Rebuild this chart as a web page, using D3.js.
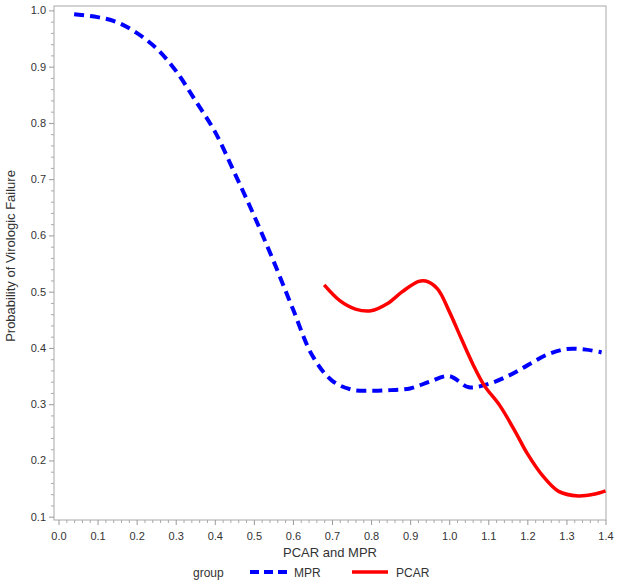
<!DOCTYPE html>
<html><head><meta charset="utf-8">
<script src="https://cdn.jsdelivr.net/npm/d3@7/dist/d3.min.js"></script>
<style>body{margin:0;background:#fff}svg{display:block}</style>
</head><body>
<svg id="c" width="618" height="585"></svg>
<script>
const mprX = [0.04,0.10,0.15,0.20,0.25,0.30,0.35,0.40,0.45,0.50,0.55,0.60,0.65,0.70,0.75,0.80,0.85,0.90,0.95,1.00,1.05,1.10,1.15,1.20,1.25,1.30,1.35,1.39];
const mprY = [0.993,0.988,0.979,0.960,0.933,0.893,0.840,0.785,0.712,0.636,0.555,0.469,0.386,0.342,0.326,0.324,0.325,0.328,0.340,0.350,0.330,0.336,0.350,0.369,0.388,0.398,0.397,0.392];
const pcarX = [0.68,0.72,0.76,0.80,0.84,0.88,0.92,0.94,0.97,1.00,1.03,1.06,1.09,1.13,1.17,1.20,1.24,1.28,1.33,1.37,1.40];
const pcarY = [0.512,0.484,0.469,0.466,0.478,0.500,0.518,0.519,0.505,0.465,0.418,0.372,0.333,0.297,0.250,0.212,0.172,0.145,0.137,0.140,0.146];
const xTicks = [0,0.1,0.2,0.3,0.4,0.5,0.6,0.7,0.8,0.9,1.0,1.1,1.2,1.3,1.4];
const yTicks = [0.1,0.2,0.3,0.4,0.5,0.6,0.7,0.8,0.9,1.0];
const groups = ["MPR","PCAR"];

const svg = d3.select("#c");
const F = "'Liberation Sans', Arial, sans-serif";
const frame = {l:54, r:606, t:6, b:520};
const x = d3.scaleLinear().domain([0,1.4]).range([58.5,605.5]);
const y = d3.scaleLinear().domain([0.1,1.0]).range([516.7,10.4]);

// frame
svg.append("rect").attr("x",frame.l).attr("y",frame.t).attr("width",frame.r-frame.l).attr("height",frame.b-frame.t)
  .attr("fill","none").attr("stroke","#a8a8a8").attr("stroke-width",1);

// minor ticks
const minorX = d3.range(0,71).map(i=>i*0.02).filter(v=>Math.abs(v*10-Math.round(v*10))>1e-6);
const minorY = d3.range(5,51).map(i=>i*0.02).filter(v=>Math.abs(v*10-Math.round(v*10))>1e-6);

const xAxis = d3.axisBottom(x).tickValues(xTicks).tickFormat(d3.format(".1f")).tickSize(5).tickSizeOuter(0);
const gx = svg.append("g").attr("transform",`translate(0,${frame.b})`).call(xAxis);
gx.select(".domain").remove();
gx.selectAll("line").attr("stroke","#999");
gx.selectAll("text").attr("font-family",F).attr("font-size",11).attr("fill","#333").attr("dy","1.05em");
const gxm = svg.append("g").attr("transform",`translate(0,${frame.b})`).call(d3.axisBottom(x).tickValues(minorX).tickSize(3).tickFormat(""));
gxm.select(".domain").remove(); gxm.selectAll("line").attr("stroke","#aaa");

const yAxis = d3.axisLeft(y).tickValues(yTicks).tickFormat(d3.format(".1f")).tickSize(5).tickSizeOuter(0);
const gy = svg.append("g").attr("transform",`translate(${frame.l},0)`).call(yAxis);
gy.select(".domain").remove();
gy.selectAll("line").attr("stroke","#999");
gy.selectAll("text").attr("font-family",F).attr("font-size",11).attr("fill","#333").attr("x",-8);
const gym = svg.append("g").attr("transform",`translate(${frame.l},0)`).call(d3.axisLeft(y).tickValues(minorY).tickSize(3).tickFormat(""));
gym.select(".domain").remove(); gym.selectAll("line").attr("stroke","#aaa");

// titles
svg.append("text").attr("x",330).attr("y",557).attr("text-anchor","middle").attr("font-family",F).attr("font-size",13).attr("fill","#333").text("PCAR and MPR");
svg.append("text").attr("transform","translate(14.5,256) rotate(-90)").attr("text-anchor","middle")
  .attr("font-family","'Liberation Sans Narrow', 'Arial Narrow', "+F).attr("font-size",13).attr("fill","#333").text("Probability of Virologic Failure");

// lines
const line = d3.line().x(d=>x(d[0])).y(d=>y(d[1])).curve(d3.curveCatmullRom.alpha(0.5));
const mpr = mprX.map((v,i)=>[v,mprY[i]]);
const pcar = pcarX.map((v,i)=>[v,pcarY[i]]);
svg.append("path").attr("d",line(mpr)).attr("fill","none").attr("stroke","#0000ff").attr("stroke-width",4).attr("stroke-dasharray","10,6");
svg.append("path").attr("d",line(pcar)).attr("fill","none").attr("stroke","#ff0000").attr("stroke-width",3.5);

// legend
const lg = svg.append("g").attr("font-family",F).attr("font-size",12).attr("fill","#333");
lg.append("text").attr("x",193).attr("y",577).text("group");
lg.append("line").attr("x1",250).attr("x2",287).attr("y1",572).attr("y2",572).attr("stroke","#0000ff").attr("stroke-width",4).attr("stroke-dasharray","9,5");
lg.append("text").attr("x",294).attr("y",577).text(groups[0]);
lg.append("line").attr("x1",352).attr("x2",388).attr("y1",572).attr("y2",572).attr("stroke","#ff0000").attr("stroke-width",3.5);
lg.append("text").attr("x",396).attr("y",577).text(groups[1]);
</script>
</body></html>
